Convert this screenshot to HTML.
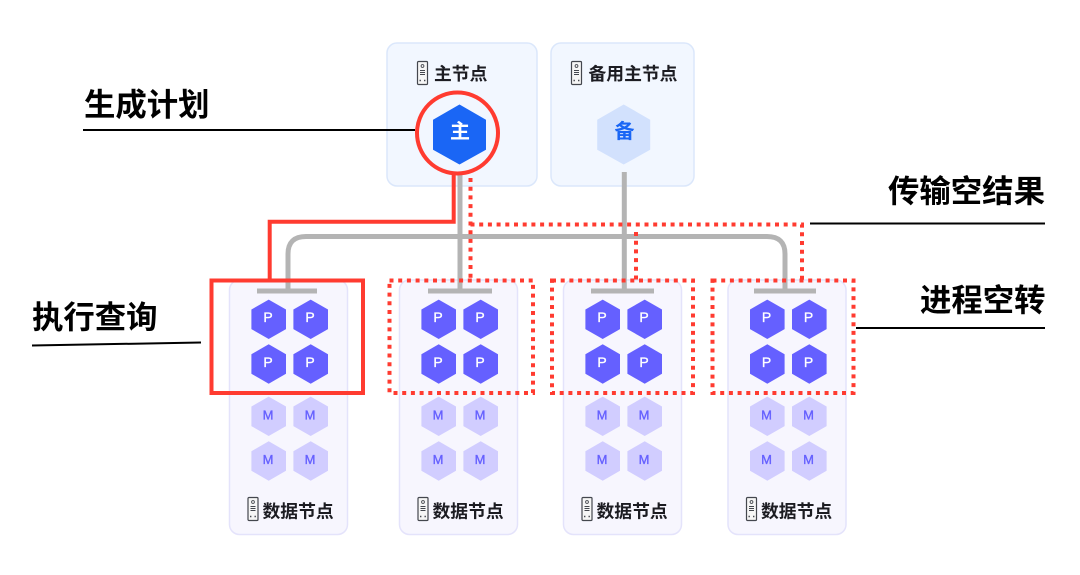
<!DOCTYPE html>
<html><head><meta charset="utf-8">
<style>
html,body{margin:0;padding:0;background:#fff}
svg{display:block}
text{font-family:"Liberation Sans","Noto Sans CJK SC",sans-serif}
.t{font-size:31.4px;font-weight:700;fill:#000;font-family:"Noto Sans CJK SC",sans-serif}
.n{font-size:17.8px;font-weight:700;fill:#1c1c22;font-family:"Noto Sans CJK SC",sans-serif}
.p{font-size:14px;font-weight:400;fill:#fff;stroke:#fff;stroke-width:.35;text-anchor:middle}
.m{font-size:13px;font-weight:400;fill:#6560ff;stroke:#6560ff;stroke-width:.35;text-anchor:middle}
.g{stroke:#b4b4b4;stroke-width:5;fill:none}
.r{stroke:#ff3b30;stroke-width:4;fill:none}
.d{stroke:#ff3b30;stroke-width:4;fill:none;stroke-dasharray:4 4.7}
.l{stroke:#000;stroke-width:2;fill:none}
.b{fill:#f7f6fe;stroke:#e4e3fb;stroke-width:1.5}
.a{fill:#f2f7ff;stroke:#dbe7fb;stroke-width:1.5}
</style></head><body>
<svg width="1080" height="575" viewBox="0 0 1080 575" xmlns="http://www.w3.org/2000/svg">
<defs>
<path id="hp" d="M0-19.7 17.3-9.8V9.8L0 19.7-17.3 9.8V-9.8Z" stroke-linejoin="round"/>
<g id="sv">
<rect x="0.5" y="0.5" width="10" height="23" rx="1" fill="#f6f6f6" stroke="#44474e" stroke-width="1.2"/>
<circle cx="5.500" cy="5" r="1.400" fill="none" stroke="#44474e" stroke-width="0.9"/>
<path d="M3 9.500h5M3 11.500h5M3 13.500h5" stroke="#44474e" stroke-width="1"/>
<path d="M2.500 19.500h1.400M7 19.500h1.400" stroke="#44474e" stroke-width="1.400"/>
</g>
</defs>

<rect class="a" x="387" y="43" width="150" height="143" rx="10"/>
<rect class="a" x="551" y="43" width="143" height="143" rx="10"/>
<rect class="b" x="229.500" y="280" width="118" height="254.500" rx="10"/>
<rect class="b" x="399.500" y="280" width="118" height="254.500" rx="10"/>
<rect class="b" x="563.500" y="280" width="118" height="254.500" rx="10"/>
<rect class="b" x="728" y="280" width="118" height="254.500" rx="10"/>

<use href="#sv" x="417" y="61"/>
<text class="n" x="434" y="80">主节点</text>
<use href="#sv" x="571" y="61"/>
<text class="n" x="588.500" y="80">备用主节点</text>

<path d="M459.500 105 485.500 120V149.500L459.500 164 433.500 149.500V120Z" fill="#1a66f5" stroke="#1a66f5" stroke-linejoin="round"/>
<text x="460" y="138" font-size="20" font-weight="700" fill="#fff" text-anchor="middle" style="font-family:'Noto Sans CJK SC',sans-serif">主</text>
<path d="M623.700 105 649.700 120V149.500L623.700 164 597.700 149.500V120Z" fill="#d2e1fd" stroke="#d2e1fd" stroke-linejoin="round"/>
<text x="624.500" y="138" font-size="20" font-weight="700" fill="#1a66f5" text-anchor="middle" style="font-family:'Noto Sans CJK SC',sans-serif">备</text>

<!-- gray connectors -->
<path class="g" d="M288 291V254Q288 236.500 306 236.500H767Q785 236.500 785 254V291"/>
<path class="g" d="M460 174V291"/>
<path class="g" d="M624.300 172V291"/>
<path class="g" d="M257 291H317M428 291H492M591 291H654M754 291H816"/>

<!-- red connectors -->
<path class="r" d="M453.700 172V221.700H269.700V280"/>
<path class="d" d="M470.500 178V280"/>
<path class="d" d="M470.500 224.500H802V280"/>
<path class="d" d="M636 232V280"/>

<circle cx="457.500" cy="133" r="40.500" fill="none" stroke="#ff3b30" stroke-width="4"/>
<rect class="r" x="211.500" y="280.500" width="151.500" height="112.500"/>
<rect class="d" x="389.500" y="280.500" width="143.500" height="112.500"/>
<rect class="d" x="552" y="280.500" width="141" height="112.500"/>
<rect class="d" x="712.500" y="280.500" width="141" height="112.500"/>

<g fill="#6560ff">
<use href="#hp" x="268.700" y="319.300"/><use href="#hp" x="310.700" y="319.300"/><use href="#hp" x="268.700" y="364"/><use href="#hp" x="310.700" y="364"/>
<use href="#hp" x="438.700" y="319.300"/><use href="#hp" x="480.700" y="319.300"/><use href="#hp" x="438.700" y="364"/><use href="#hp" x="480.700" y="364"/>
<use href="#hp" x="602.700" y="319.300"/><use href="#hp" x="644.700" y="319.300"/><use href="#hp" x="602.700" y="364"/><use href="#hp" x="644.700" y="364"/>
<use href="#hp" x="767.300" y="319.300"/><use href="#hp" x="809.300" y="319.300"/><use href="#hp" x="767.300" y="364"/><use href="#hp" x="809.300" y="364"/>
</g>
<g fill="#d1cdff">
<use href="#hp" x="268.700" y="416.300"/><use href="#hp" x="310.700" y="416.300"/><use href="#hp" x="268.700" y="461"/><use href="#hp" x="310.700" y="461"/>
<use href="#hp" x="438.700" y="416.300"/><use href="#hp" x="480.700" y="416.300"/><use href="#hp" x="438.700" y="461"/><use href="#hp" x="480.700" y="461"/>
<use href="#hp" x="602.700" y="416.300"/><use href="#hp" x="644.700" y="416.300"/><use href="#hp" x="602.700" y="461"/><use href="#hp" x="644.700" y="461"/>
<use href="#hp" x="767.300" y="416.300"/><use href="#hp" x="809.300" y="416.300"/><use href="#hp" x="767.300" y="461"/><use href="#hp" x="809.300" y="461"/>
</g>
<g>
<text class="p" x="268" y="322">P</text><text class="p" x="310" y="322">P</text><text class="p" x="268" y="367">P</text><text class="p" x="310" y="367">P</text>
<text class="p" x="438" y="322">P</text><text class="p" x="480" y="322">P</text><text class="p" x="438" y="367">P</text><text class="p" x="480" y="367">P</text>
<text class="p" x="602" y="322">P</text><text class="p" x="644" y="322">P</text><text class="p" x="602" y="367">P</text><text class="p" x="644" y="367">P</text>
<text class="p" x="766.500" y="322">P</text><text class="p" x="808.500" y="322">P</text><text class="p" x="766.500" y="367">P</text><text class="p" x="808.500" y="367">P</text>
<text class="m" x="268" y="419.500">M</text><text class="m" x="310" y="419.500">M</text><text class="m" x="268" y="464">M</text><text class="m" x="310" y="464">M</text>
<text class="m" x="438" y="419.500">M</text><text class="m" x="480" y="419.500">M</text><text class="m" x="438" y="464">M</text><text class="m" x="480" y="464">M</text>
<text class="m" x="602" y="419.500">M</text><text class="m" x="644" y="419.500">M</text><text class="m" x="602" y="464">M</text><text class="m" x="644" y="464">M</text>
<text class="m" x="766.500" y="419.500">M</text><text class="m" x="808.500" y="419.500">M</text><text class="m" x="766.500" y="464">M</text><text class="m" x="808.500" y="464">M</text>
</g>

<use href="#sv" x="247.500" y="497"/><text class="n" x="262.500" y="517.500">数据节点</text>
<use href="#sv" x="417.500" y="497"/><text class="n" x="432.500" y="517.500">数据节点</text>
<use href="#sv" x="581.500" y="497"/><text class="n" x="596.500" y="517.500">数据节点</text>
<use href="#sv" x="746" y="497"/><text class="n" x="761" y="517.500">数据节点</text>

<!-- callouts -->
<text class="t" x="84" y="115.500">生成计划</text>
<path class="l" d="M83 130H415"/>
<text class="t" x="32" y="328">执行查询</text>
<path class="l" d="M32 345.500 201 342.500"/>
<text class="t" x="888" y="202">传输空结果</text>
<path class="l" d="M810 223.500H1045"/>
<text class="t" x="920" y="311">进程空转</text>
<path class="l" d="M856 328H1045"/>
</svg>
</body></html>
